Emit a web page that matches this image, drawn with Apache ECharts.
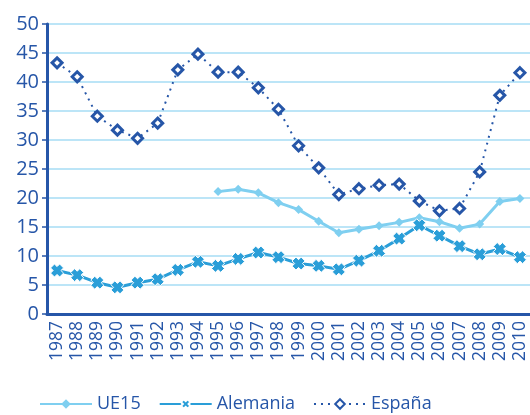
<!DOCTYPE html>
<html lang="es">
<head>
<meta charset="UTF-8">
<title>UE15 / Alemania / España</title>
<script src="https://cdn.jsdelivr.net/npm/echarts@6/dist/echarts.min.js"></script>
</head>
<body style="margin:0">
<div id="main" style="width:530px;height:415px;"></div>
<script type="text/javascript">
const years = ['1987','1988','1989','1990','1991','1992','1993','1994','1995','1996','1997','1998',
  '1999','2000','2001','2002','2003','2004','2005','2006','2007','2008','2009','2010'];
const ue15 = [null,null,null,null,null,null,null,null,21.1,21.5,20.9,19.2,
  18.0,16.0,14.0,14.6,15.2,15.8,16.6,15.9,14.8,15.5,19.4,19.9];
const alemania = [7.5,6.7,5.4,4.6,5.4,6.0,7.6,9.0,8.3,9.5,10.6,9.8,
  8.7,8.3,7.7,9.2,10.9,13.0,15.3,13.5,11.7,10.3,11.2,9.8];
const espana = [43.3,40.9,34.1,31.7,30.3,32.9,42.1,44.8,41.7,41.7,39.0,35.3,
  29.0,25.2,20.6,21.6,22.2,22.4,19.5,17.8,18.2,24.5,37.7,41.6];

const dark = '#2656a8';
const mid = '#2a9ed8';
const light = '#7fcff0';
const font = 'Open Sans';
// thick "x" marker
const cross = 'path://M0,3 L3,0 L5,2 L7,0 L10,3 L8,5 L10,7 L7,10 L5,8 L3,10 L0,7 L2,5 Z';

let myChart = echarts.init(document.getElementById('main'));

myChart.setOption({
  animation: false,
  textStyle: { fontFamily: font },
  grid: { left: 47, top: 24, width: 488, height: 290, containLabel: false },
  legend: {
    left: 34, top: 390, itemWidth: 52, itemHeight: 12, itemGap: 18,
    textStyle: { color: dark, fontSize: 18, fontFamily: font },
    data: ['UE15', 'Alemania', 'España']
  },
  xAxis: {
    type: 'category', data: years,
    axisLine: { lineStyle: { color: dark, width: 3 } },
    axisTick: { lineStyle: { color: dark, width: 1.5 }, length: 5 },
    axisLabel: { rotate: 90, color: dark, fontSize: 17.5, margin: 7, interval: 0 }
  },
  yAxis: {
    type: 'value', min: 0, max: 50, interval: 5,
    axisLine: { show: true, lineStyle: { color: dark, width: 3 } },
    axisTick: { show: true, lineStyle: { color: dark, width: 1.5 }, length: 5 },
    axisLabel: { color: dark, fontSize: 20, margin: 8 },
    splitLine: { lineStyle: { color: '#a6dcf4', width: 1.5 } }
  },
  series: [
    {
      name: 'UE15', type: 'line', data: ue15,
      symbol: 'diamond', symbolSize: 9,
      lineStyle: { color: light, width: 3 },
      itemStyle: { color: light }
    },
    {
      name: 'Alemania', type: 'line', data: alemania,
      symbol: cross, symbolSize: 13,
      lineStyle: { color: mid, width: 3 },
      itemStyle: { color: mid, borderColor: '#fff', borderWidth: 1 }
    },
    {
      name: 'España', type: 'line', data: espana,
      symbol: 'diamond', symbolSize: 10,
      lineStyle: { color: dark, width: 2, type: [2, 5] },
      itemStyle: { color: '#fff', borderColor: dark, borderWidth: 3 }
    }
  ]
});
</script>
</body>
</html>
